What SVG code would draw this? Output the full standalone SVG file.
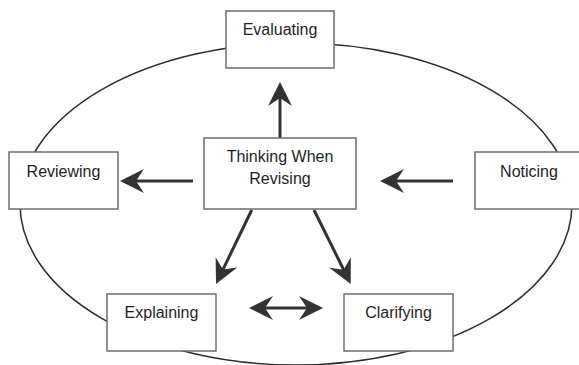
<svg xmlns="http://www.w3.org/2000/svg" width="579" height="365" viewBox="0 0 579 365">
<style>
  .box { fill: #ffffff; stroke: #6e6e6e; stroke-width: 1.5; }
  .lbl { font-family: "Liberation Sans", Arial, sans-serif; font-size: 16px; fill: #1e1e1e; text-anchor: middle; }
  .arr { stroke: #333333; stroke-width: 3; fill: none; }
  .ring { fill: none; stroke: #2e2e2e; stroke-width: 1.5; }
</style>
<defs>
  <marker id="head" markerUnits="userSpaceOnUse" markerWidth="40" markerHeight="40" refX="0" refY="0" orient="auto-start-reverse" overflow="visible">
    <path d="M14,0 L-10,-12 L-2,0 L-10,12 Z" fill="#333333"/>
  </marker>
</defs>
<rect width="579" height="365" fill="#ffffff"/>
<ellipse class="ring" cx="296" cy="204" rx="276" ry="161"/>
<g id="connectors">
  <line class="arr" x1="280" y1="138" x2="280" y2="96" marker-end="url(#head)"/>
  <line class="arr" x1="193" y1="181" x2="134" y2="181" marker-end="url(#head)"/>
  <line class="arr" x1="453" y1="181" x2="394" y2="181" marker-end="url(#head)"/>
  <line class="arr" x1="251.7" y1="210" x2="222.1" y2="271.4" marker-end="url(#head)"/>
  <line class="arr" x1="314" y1="210" x2="344.5" y2="271.5" marker-end="url(#head)"/>
  <line class="arr" x1="263" y1="308" x2="309" y2="308" marker-start="url(#head)" marker-end="url(#head)"/>
</g>
<g id="evaluating">
  <rect class="box" x="226" y="11" width="108" height="57"/>
  <text class="lbl" x="280" y="35">Evaluating</text>
</g>
<g id="thinking">
  <rect class="box" x="204" y="138" width="152" height="71"/>
  <text class="lbl" x="280" y="162">Thinking When</text>
  <text class="lbl" x="280" y="184">Revising</text>
</g>
<g id="reviewing">
  <rect class="box" x="9" y="152" width="109" height="57"/>
  <text class="lbl" x="63.5" y="177">Reviewing</text>
</g>
<g id="noticing">
  <rect class="box" x="475" y="152" width="109" height="57"/>
  <text class="lbl" x="529" y="177">Noticing</text>
</g>
<g id="explaining">
  <rect class="box" x="107" y="294" width="109" height="57"/>
  <text class="lbl" x="161.5" y="318">Explaining</text>
</g>
<g id="clarifying">
  <rect class="box" x="344" y="294" width="109" height="57"/>
  <text class="lbl" x="398.5" y="318">Clarifying</text>
</g>
</svg>
